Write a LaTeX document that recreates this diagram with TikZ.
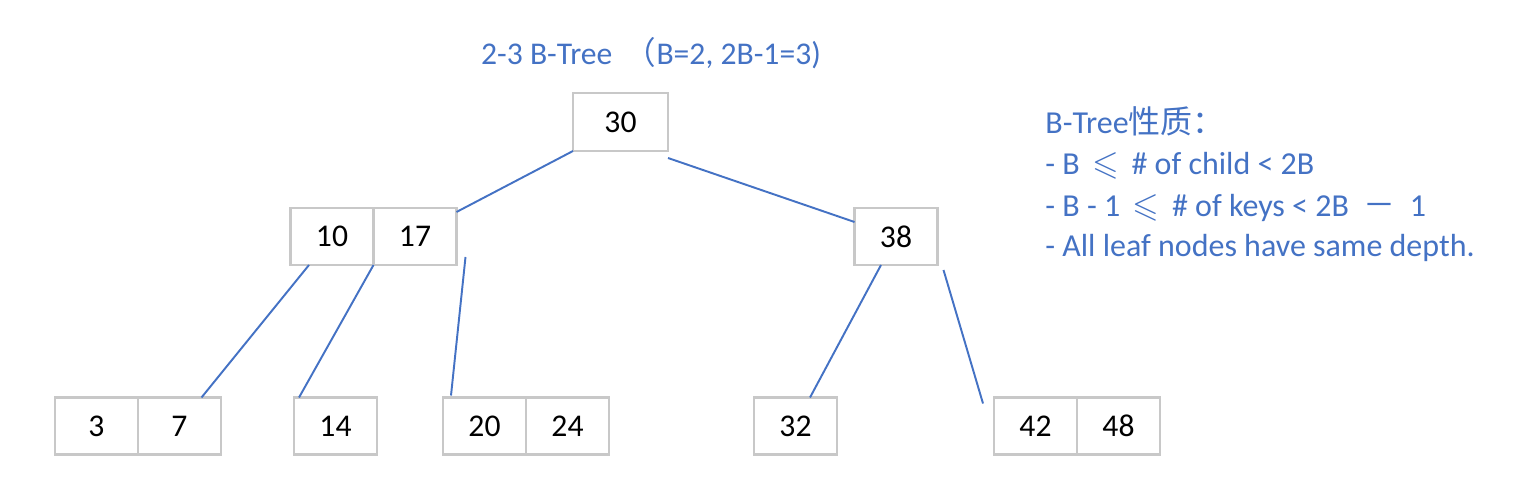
\documentclass[tikz,border=0pt]{standalone}
\usepackage{fontspec}
\usepackage{amssymb}
\setmainfont{Carlito}
\newfontfamily\cjk{Noto Sans CJK SC}
\usetikzlibrary{positioning}
\definecolor{treeblue}{HTML}{4472C4}
\definecolor{boxgrey}{HTML}{C8C8C8}
\newcommand{\bigleq}{{\fontsize{19.5}{20}\selectfont$\leqslant$}}
\begin{document}
\begin{tikzpicture}[
        key/.style={draw=boxgrey,line width=1.3pt,minimum width=1.66cm,minimum height=1.14cm,inner sep=0pt,outer sep=0pt,font=\fontsize{18}{20}\selectfont},
        link/.style={treeblue,line width=1.1pt},
        prop/.style={treeblue,anchor=base west,inner sep=0pt,font=\fontsize{18.2}{20}\selectfont}]
        \useasboundingbox (0,0) rectangle (30.52,9.9);
        \node [key,minimum width=1.9cm,minimum height=1.16cm] (root) at (12.41,7.46) {30};
        \node [key] (k10) at (6.64,5.17) {10};
        \node [key,right=0pt of k10] (k17) {17};
        \node [key] (k38) at (17.92,5.17) {38};
        \node [key] (k3) at (1.93,1.38) {3};
        \node [key,right=0pt of k3] (k7) {7};
        \node [key] (k14) at (6.71,1.38) {14};
        \node [key] (k20) at (9.69,1.38) {20};
        \node [key,right=0pt of k20] (k24) {24};
        \node [key] (k32) at (15.91,1.38) {32};
        \node [key] (k42) at (20.71,1.38) {42};
        \node [key,right=0pt of k42] (k48) {48};
        \draw [link] (root.south west) -- ([yshift=-0.08cm]k17.north east);
        \draw [link] ([yshift=-0.14cm]root.south east) -- ([yshift=-0.28cm]k38.north west);
        \draw [link] ([xshift=-0.46cm]k10.south) -- ([xshift=0.44cm]k7.north);
        \draw [link] (k10.south east) -- ([xshift=0.1cm]k14.north west);
        \draw [link] ([xshift=0.18cm,yshift=0.16cm]k17.south east) -- ([xshift=0.16cm,yshift=0.04cm]k20.north west);
        \draw [link] ([xshift=-0.3cm]k38.south) -- ([xshift=0.29cm]k32.north);
        \draw [link] ([xshift=0.12cm,yshift=-0.1cm]k38.south east) -- ([xshift=-0.22cm,yshift=-0.12cm]k42.north west);
        \path (13.02,8.84) node [treeblue,font=\fontsize{18}{20}\selectfont] (title) {2-3 B-Tree \,{\cjk （}B=2, 2B-1=3)};
        \node [prop] (p0) at (20.9,7.22) {B-Tree{\cjk 性质：}};
        \node [prop] (p1) at (20.9,6.40) {- B \,\bigleq\,\ \# of child < 2B};
        \node [prop] (p2) at (20.9,5.57) {- B - 1 \,\bigleq\,\ \# of keys < 2B \ {\cjk －} \ 1};
        \node [prop] (p3) at (20.9,4.76) {- All leaf nodes have same depth.};
\end{tikzpicture}
\end{document}
